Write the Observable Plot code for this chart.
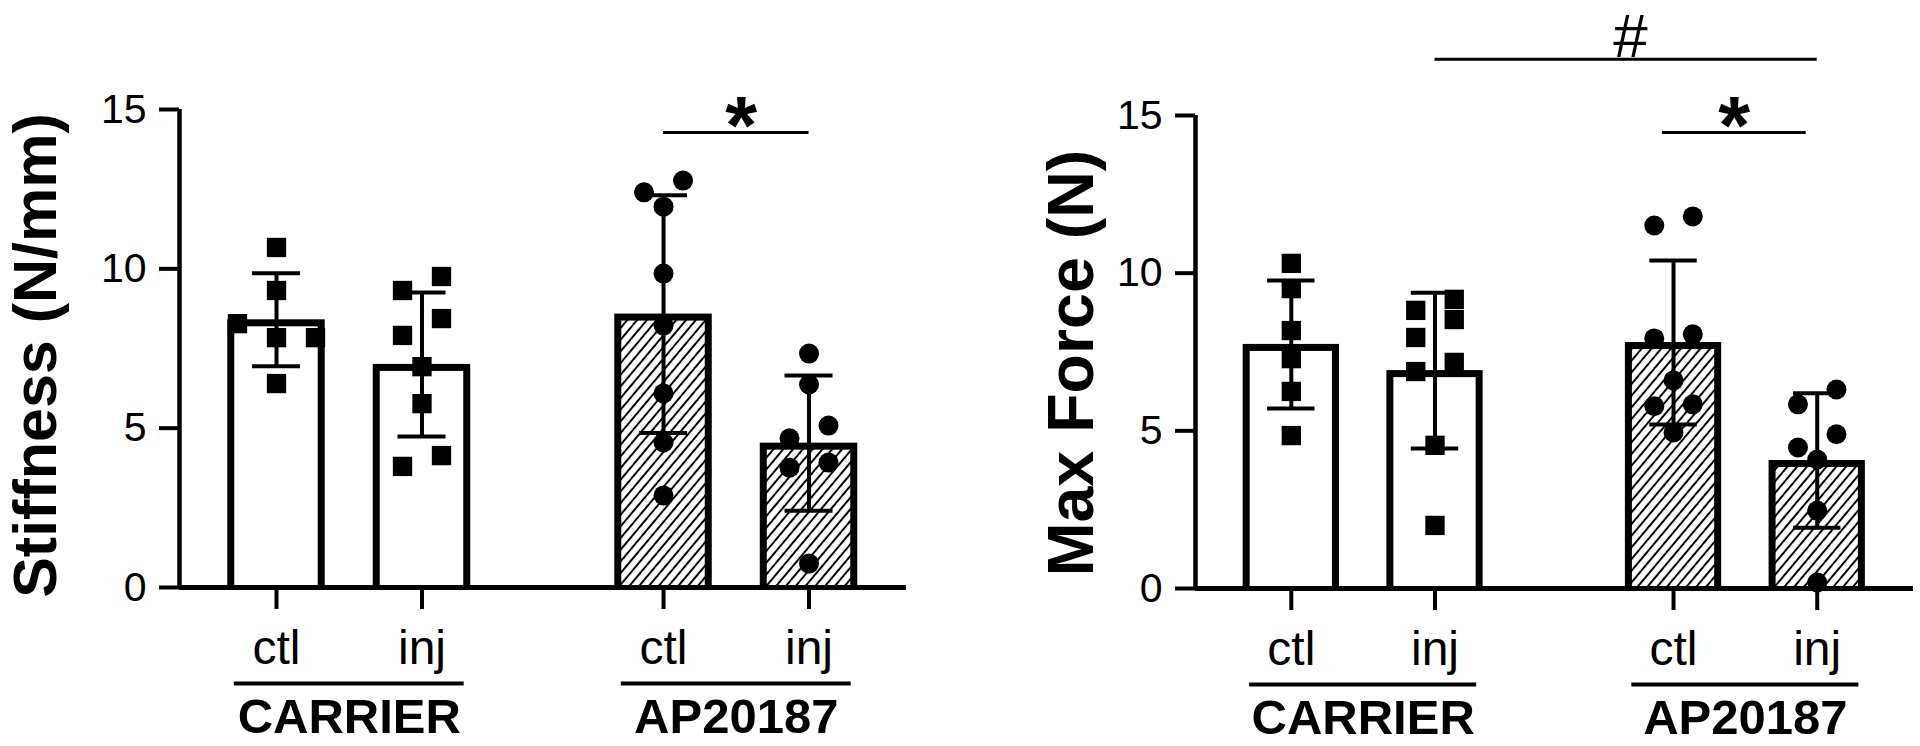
<!DOCTYPE html>
<html>
<head>
<meta charset="utf-8">
<script src="https://cdn.jsdelivr.net/npm/d3@7"></script>
<script src="https://cdn.jsdelivr.net/npm/@observablehq/plot@0.6"></script>
<style>
  html, body { margin: 0; padding: 0; background: #fff; }
  #wrap { display: flex; width: 1920px; height: 746px; overflow: hidden; background: #fff; }
  #wrap svg { display: block; flex: none; }
</style>
</head>
<body>
<div id="wrap"></div>
<script>
// ---------- data ----------
const groups = ["CARRIER", "AP20187"];
const conditions = ["ctl", "inj"];
const yTicks = [0, 5, 10, 15];

// Stiffness (N/mm)
const stiffCarrierCtl = [10.67, 9.32, 8.28, 7.84, 7.84, 6.4];
const stiffCarrierInj = [9.76, 9.32, 8.44, 7.91, 6.93, 5.77, 4.14, 3.8];
const stiffApCtl      = [12.77, 12.4, 11.95, 9.85, 8.22, 6.09, 4.55, 2.89];
const stiffApInj      = [7.34, 6.37, 5.08, 4.68, 3.92, 3.76, 0.75];
const stiffMean = [8.4, 7.0, 8.58, 4.53];
const stiffSD   = [1.46, 2.26, 3.73, 2.12];

// Max Force (N)
const forceCarrierCtl = [10.31, 9.51, 8.18, 7.29, 6.25, 4.85];
const forceCarrierInj = [9.17, 8.82, 8.53, 7.96, 7.17, 6.88, 4.54, 2.0];
const forceApCtl      = [11.8, 11.51, 8.06, 7.93, 6.6, 5.84, 5.78, 4.95];
const forceApInj      = [6.31, 5.84, 4.89, 4.47, 4.09, 2.47, 0.19];
const forceMean = [7.74, 6.91, 7.8, 4.06];
const forceSD   = [2.03, 2.47, 2.6, 2.13];

// significance annotations: [group, condition] pairs
const stiffSignif = [{from: [1, 0], to: [1, 1], label: "*"}];
const forceSignif = [{from: [0, 1], to: [1, 1], label: "#"}, {from: [1, 0], to: [1, 1], label: "*"}];

// ---------- layout ----------
const groupOffset = 2.66;     // distance between the two groups, in bar steps
const halfBar = 0.335;
const halfCap = 0.165;
const laneStep = 0.268;
const FAM = "Liberation Sans, Arial, Helvetica, sans-serif";

function laneOffsets(values) {
  const order = values.map((v, i) => i).sort((a, b) => values[b] - values[a]);
  const rows = [];
  for (const i of order) {
    const row = rows[rows.length - 1];
    if (row && values[row[0]] - values[i] < 0.6) row.push(i);
    else rows.push([i]);
  }
  const off = new Array(values.length).fill(0);
  for (const row of rows) {
    const n = row.length;
    const seq = n === 2 ? [row[1], row[0]] : row;
    seq.forEach((i, k) => { off[i] = (k - (n - 1) / 2) * laneStep; });
  }
  return off;
}

function panel(cfg) {
  const posOf = (gi, ci) => gi * groupOffset + ci;
  const bars = [];
  const points = [];
  groups.forEach((g, gi) => conditions.forEach((c, ci) => {
    const k = gi * 2 + ci;
    const pos = posOf(gi, ci);
    bars.push({group: g, cond: c, pos, mean: cfg.means[k], sd: cfg.sds[k]});
    const vals = cfg.values[k];
    const off = laneOffsets(vals);
    vals.forEach((v, i) => points.push({group: g, cond: c, x: pos + off[i], value: v}));
  }));
  const centers = groups.map((g, gi) => ({group: g, center: gi * groupOffset + 0.5}));
  const brackets = cfg.signif.map((b, i) => ({
    ...b,
    level: cfg.levels[i],
    x1: posOf(...b.from) + cfg.shifts[i],
    x2: posOf(...b.to) + cfg.shifts[i],
    tx: (posOf(...b.from) + posOf(...b.to)) / 2 + cfg.textShifts[i]
  }));
  const tickLabel = new Map(bars.map(d => [d.pos, d.cond]));
  const barX = {x1: d => d.pos - halfBar, x2: d => d.pos + halfBar, y1: 0, y2: "mean"};
  const inset = {insetLeft: 7, insetRight: 7, insetTop: 7};

  const svg = Plot.plot({
    width: 960, height: 746,
    marginLeft: cfg.ml, marginRight: cfg.mr, marginTop: cfg.mt, marginBottom: cfg.mb,
    style: {fontFamily: FAM, color: "black", background: "white", overflow: "visible"},
    x: {type: "linear", domain: [-2 / 3, 4.33]},
    y: {domain: [0, 15]},
    marks: [
      Plot.rectY(bars, {...barX, fill: "black"}),
      Plot.rectY(bars.filter(d => d.group === groups[0]), {...barX, ...inset, fill: "white"}),
      Plot.rectY(bars.filter(d => d.group === groups[1]), {...barX, ...inset, fill: `url(#${cfg.hatchId})`}),
      Plot.ruleX(bars, {x: "pos", y1: d => d.mean - d.sd, y2: d => d.mean + d.sd, stroke: "black", strokeWidth: 4}),
      Plot.ruleY(bars, {y: d => d.mean + d.sd, x1: d => d.pos - halfCap, x2: d => d.pos + halfCap, stroke: "black", strokeWidth: 4}),
      Plot.ruleY(bars, {y: d => d.mean - d.sd, x1: d => d.pos - halfCap, x2: d => d.pos + halfCap, stroke: "black", strokeWidth: 4}),
      Plot.dot(points.filter(d => d.group === groups[0]), {x: "x", y: "value", symbol: "square", r: 10.9, fill: "black"}),
      Plot.dot(points.filter(d => d.group === groups[1]), {x: "x", y: "value", symbol: "circle", r: 10, fill: "black"}),
      Plot.ruleX([-2 / 3], {y1: 0, y2: 15, stroke: "black", strokeWidth: 4.5}),
      Plot.ruleY([0], {x1: -2 / 3, x2: 4.33, stroke: "black", strokeWidth: 5}),
      Plot.axisY(yTicks, {tickSize: 20, tickPadding: 13, fontSize: 41, strokeWidth: 4, label: null, tickFormat: d => String(d)}),
      Plot.axisX(bars.map(d => d.pos), {tickFormat: d => tickLabel.get(d), tickSize: 22, tickPadding: 20, fontSize: 48, strokeWidth: 4, label: null}),
      Plot.ruleY(centers, {y: 0, x1: d => d.center - 0.79, x2: d => d.center + 0.79, dy: 96, stroke: "black", strokeWidth: 4}),
      Plot.text(centers, {x: "center", y: 0, text: "group", dy: 111, lineAnchor: "top", fontSize: 49, fontWeight: "bold", fill: "black"}),
      Plot.ruleY(brackets, {y: "level", x1: "x1", x2: "x2", stroke: "black", strokeWidth: 3}),
      Plot.text(brackets.filter(d => d.label === "*"), {x: "tx", y: "level", text: "label", lineAnchor: "top", dy: -38, fontSize: 82, fontWeight: "bold", fill: "black"}),
      Plot.text(brackets.filter(d => d.label === "#"), {x: "tx", y: "level", text: "label", lineAnchor: "top", dy: -46, fontSize: 62, fill: "black"}),
      Plot.text([cfg.title], {text: d => d, frameAnchor: "left", textAnchor: "middle", rotate: -90, dx: cfg.tdx, dy: cfg.tdy, lineAnchor: "top", fontSize: cfg.tfs, fontWeight: "bold", fill: "black"})
    ]
  });

  const ns = "http://www.w3.org/2000/svg";
  const defs = document.createElementNS(ns, "defs");
  defs.innerHTML = `<pattern id="${cfg.hatchId}" patternUnits="userSpaceOnUse" width="7.5" height="7.5" patternTransform="rotate(40)">
      <rect width="7.5" height="7.5" fill="white"/>
      <line x1="3.75" y1="0" x2="3.75" y2="7.5" stroke="black" stroke-width="2"/>
    </pattern>`;
  svg.insertBefore(defs, svg.firstChild);
  return svg;
}

const wrap = document.getElementById("wrap");
wrap.appendChild(panel({
  title: "Stiffness (N/mm)",
  values: [stiffCarrierCtl, stiffCarrierInj, stiffApCtl, stiffApInj],
  means: stiffMean, sds: stiffSD,
  signif: stiffSignif, levels: [14.28], shifts: [0], textShifts: [0.034],
  ml: 179, mr: 54, mt: 109, mb: 159, tdx: -167, tdy: 7, tfs: 61, hatchId: "hatchL"
}));
wrap.appendChild(panel({
  title: "Max Force (N)",
  values: [forceCarrierCtl, forceCarrierInj, forceApCtl, forceApInj],
  means: forceMean, sds: forceSD,
  signif: forceSignif, levels: [16.78, 14.46], shifts: [0, -0.077], textShifts: [0.03, -0.077],
  ml: 235, mr: 7, mt: 115, mb: 158, tdx: -148, tdy: 11, tfs: 64.5, hatchId: "hatchR"
}));
</script>
</body>
</html>
